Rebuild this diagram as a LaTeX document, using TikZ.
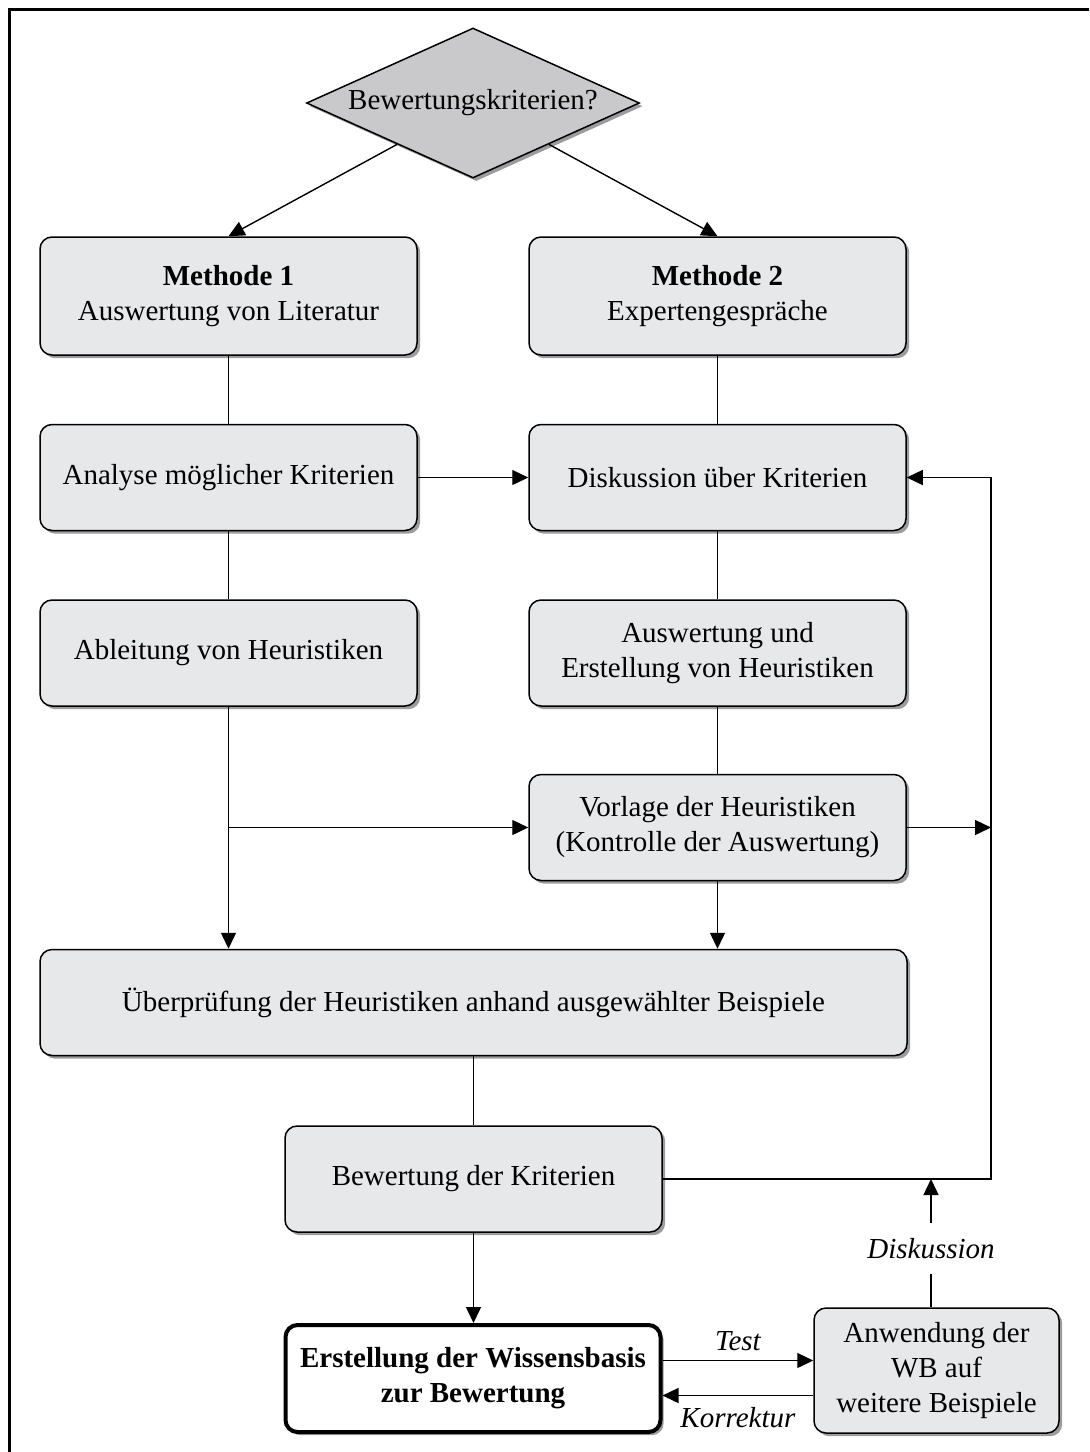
\documentclass[tikz,border=0pt]{standalone}
\usepackage{fontspec}
\setmainfont{Liberation Serif}
\usetikzlibrary{shapes.geometric, arrows.meta, shadows}
\definecolor{boxfill}{HTML}{E7E8EA}
\definecolor{diafill}{HTML}{C9C9CB}
\definecolor{shade}{HTML}{9C9C9E}
\begin{document}
\begin{tikzpicture}[x=0.5pt, y=-0.5pt,
  every node/.style={font=\fontsize{14.5}{17.5}\selectfont},
  shadowed/.style={drop shadow={shadow xshift=1.6pt, shadow yshift=-1.6pt, fill=shade, opacity=1}},
  stepbox/.style={draw, line width=0.75pt, rounded corners=6pt, fill=boxfill, shadowed,
    align=center, inner sep=0pt, minimum width=188.5pt, minimum height=53pt},
  decision/.style={draw, line width=0.75pt, shape=diamond, aspect=2.22, fill=diafill, shadowed,
    inner sep=0pt, minimum width=166.5pt, minimum height=75pt},
  resultbox/.style={draw, line width=2pt, rounded corners=6pt, fill=white, shadowed,
    align=center, inner sep=0pt, minimum width=187.5pt, minimum height=53.5pt,
    font=\fontsize{14.5}{17.5}\selectfont\bfseries},
  conn/.style={line width=0.7pt},
  arr/.style={conn, -{Triangle[length=8pt, width=7.5pt]}},
  tag/.style={font=\fontsize{14.5}{17.5}\selectfont\itshape},
]
\useasboundingbox (0,0) rectangle (1089,1452);

% outer frame
\draw[line width=1.5pt] (9.5,1452) -- (9.5,9.5) -- (1089,9.5);

% nodes
\node[decision] (dia) at (473,103) {\raisebox{-1.5pt}{Bewertungskriterien?}};

\node[stepbox, minimum height=59pt] (m1) at (228.5,296) {\textbf{Methode 1}\\Auswertung von Literatur};
\node[stepbox, minimum height=59pt] (m2) at (717.5,296) {\textbf{Methode 2}\\Expertengespräche};

\node[stepbox] (ana) at (228.5,477.5) {Analyse möglicher Kriterien};
\node[stepbox] (dis) at (717.5,477.5) {Diskussion über Kriterien};

\node[stepbox] (abl) at (228.5,653) {Ableitung von Heuristiken};
\node[stepbox] (aus) at (717.5,653) {Auswertung und\\Erstellung von Heuristiken};

\node[stepbox] (vor) at (717.5,827.5) {Vorlage der Heuristiken\\(Kontrolle der Auswertung)};

\node[stepbox, minimum width=433.5pt] (pruef) at (473.5,1002.5) {Überprüfung der Heuristiken anhand ausgewählter Beispiele};

\node[stepbox] (bew) at (473.5,1179) {Bewertung der Kriterien};

\node[resultbox] (wb) at (473,1378.5) {Erstellung der Wissensbasis\\zur Bewertung};

\node[stepbox, minimum width=122.5pt, minimum height=62.5pt] (anw) at (936.5,1370.5) {Anwendung der\\WB auf\\weitere Beispiele};

\node[tag, inner xsep=2pt, inner ysep=0pt, text height=10pt, text depth=0pt, minimum height=25.5pt] (disk) at (931,1248.5) {Diskussion};

\coordinate (rt) at (991,477.5);

% connectors
\draw[arr] (dia) -- (m1.north);
\draw[arr] (dia) -- (m2.north);

\draw[conn] (m1) -- (ana);
\draw[conn] (ana) -- (abl);
\draw[conn] (m2) -- (dis);
\draw[conn] (dis) -- (aus);
\draw[conn] (aus) -- (vor);

\draw[arr] (ana) -- (dis);

\draw[arr] (abl.south) -- (abl.south |- pruef.north);
\draw[arr] (abl.south |- vor.west) -- (vor.west);
\draw[arr] (vor.south) -- (vor.south |- pruef.north);

\draw[conn] (pruef.south -| bew.north) -- (bew.north);
\draw[arr] (bew.south) -- (bew.south |- wb.north);

\draw[arr] (vor.east) -- (vor.east -| rt);
\draw[arr] (bew.east) -- (bew.east -| rt) -- (rt) -- (dis.east);

\draw[conn] (anw.north -| disk.south) -- (disk.south);
\draw[arr] (disk.north) -- (disk.north |- bew.east);

\draw[arr] ([yshift=9pt]wb.east) -- ([yshift=9pt]wb.east -| anw.west)
  node[tag, midway, above=1pt] {Test};
\draw[arr] ([yshift=-8.5pt]wb.east -| anw.west) -- ([yshift=-8.5pt]wb.east)
  node[tag, midway, below=2pt] {Korrektur};
\end{tikzpicture}
\end{document}
